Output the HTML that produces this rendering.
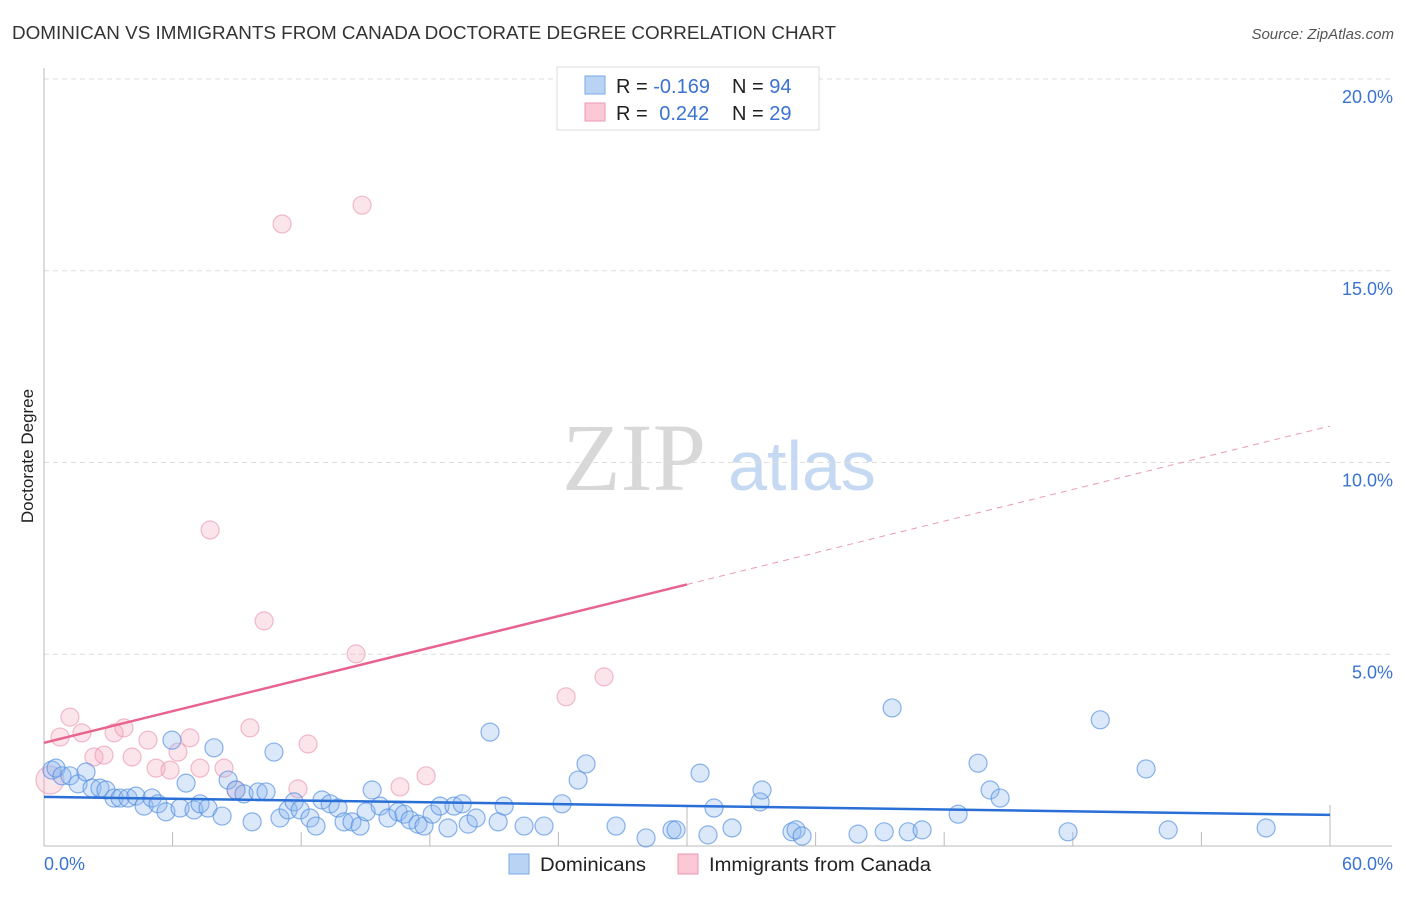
<!DOCTYPE html>
<html><head><meta charset="utf-8">
<style>
body{margin:0;background:#fff;font-family:"Liberation Sans",sans-serif;}
svg text{font-family:"Liberation Sans",sans-serif;}
</style></head>
<body>
<svg id="chart" width="1406" height="892" xmlns="http://www.w3.org/2000/svg">
<text x="12" y="39" font-size="18" fill="#333" textLength="824" lengthAdjust="spacingAndGlyphs">DOMINICAN VS IMMIGRANTS FROM CANADA DOCTORATE DEGREE CORRELATION CHART</text>
<text x="1394" y="39" font-size="15" fill="#555" font-style="italic" text-anchor="end">Source: ZipAtlas.com</text>
<text x="33" y="456" font-size="17" fill="#222" text-anchor="middle" transform="rotate(-90 33 456)">Doctorate Degree</text>
<g>
<text x="634" y="490" font-size="96" fill="#d8d8d8" text-anchor="middle" style="font-family:'Liberation Serif',serif">ZIP</text>
<text x="802" y="490" font-size="70" fill="#c5d9f2" text-anchor="middle">atlas</text>
</g>
<g id="grid"></g>
<g id="axes"></g>
<g id="marks"></g>
<g>
<rect x="557" y="67" width="262" height="63" fill="#fff" stroke="#ddd"/>
<rect x="585" y="76" width="20" height="18" fill="#b9d3f5" stroke="#7aa8e6"/>
<text x="616" y="93" font-size="20" fill="#222">R = <tspan fill="#3b73d1">-0.169</tspan></text>
<text x="732" y="93" font-size="20" fill="#222">N = <tspan fill="#3b73d1">94</tspan></text>
<rect x="585" y="103" width="20" height="18" fill="#fcc8d6" stroke="#eb9ab2"/>
<text x="616" y="120" font-size="20" fill="#222">R = <tspan fill="#3b73d1" dx="6">0.242</tspan></text>
<text x="732" y="120" font-size="20" fill="#222">N = <tspan fill="#3b73d1">29</tspan></text>
</g>
<g>
<rect x="509" y="854" width="20" height="20" fill="#b9d3f5" stroke="#7aa8e6"/>
<text x="540" y="871" font-size="19" fill="#222" textLength="106" lengthAdjust="spacingAndGlyphs">Dominicans</text>
<rect x="678" y="854" width="20" height="20" fill="#fcc8d6" stroke="#eb9ab2"/>
<text x="709" y="871" font-size="19" fill="#222" textLength="222" lengthAdjust="spacingAndGlyphs">Immigrants from Canada</text>
</g>
</svg>
<script>
const yTicks=[5,10,15,20];
const yTickLabels=["5.0%","10.0%","15.0%","20.0%"];
const xTickLabels=["0.0%","60.0%"];
const blueX=[0.37,0.56,0.84,1.21,1.59,1.96,2.24,2.61,2.89,3.27,3.55,3.92,4.29,4.67,5.04,5.32,5.69,5.97,6.35,6.63,7.00,7.28,7.65,7.93,8.31,8.59,8.96,9.33,9.71,9.99,10.36,10.73,11.01,11.39,11.67,11.95,12.41,12.69,12.97,13.35,13.72,14.00,14.37,14.75,15.03,15.31,15.68,16.05,16.52,16.80,17.08,17.45,17.73,18.11,18.48,18.85,19.13,19.51,19.79,20.16,20.81,21.19,21.47,22.40,23.33,24.17,24.92,25.29,26.69,28.09,29.30,29.49,30.61,30.98,31.26,32.10,33.41,33.50,34.90,35.09,35.37,37.98,39.20,39.57,40.32,40.97,42.65,43.58,44.14,44.61,47.78,49.28,51.42,52.45,57.02];
const blueY=[1.98,2.03,1.83,1.83,1.62,1.93,1.51,1.51,1.46,1.25,1.25,1.25,1.30,1.04,1.25,1.10,0.89,2.76,0.99,1.64,0.94,1.10,0.99,2.56,0.78,1.72,1.46,1.36,0.63,1.41,1.41,2.45,0.73,0.94,1.15,0.94,0.73,0.52,1.20,1.10,0.99,0.63,0.63,0.52,0.89,1.46,1.04,0.73,0.89,0.83,0.68,0.57,0.52,0.83,1.04,0.47,1.04,1.10,0.57,0.73,2.97,0.63,1.04,0.52,0.52,1.10,1.72,2.14,0.52,0.21,0.42,0.42,1.90,0.29,0.99,0.47,1.15,1.46,0.37,0.42,0.26,0.31,0.37,3.60,0.37,0.42,0.83,2.16,1.46,1.25,0.37,3.29,2.01,0.42,0.47];
const pinkX=[0.28,0.75,1.21,1.77,2.33,2.80,3.27,3.73,4.11,4.85,5.23,5.88,6.25,6.81,7.28,7.75,8.40,8.96,9.61,10.27,11.11,11.85,12.32,14.56,14.84,16.61,17.83,24.36,26.13];
const pinkY=[1.72,2.84,3.36,2.95,2.32,2.37,2.95,3.08,2.32,2.76,2.03,1.98,2.45,2.82,2.03,8.24,2.03,1.46,3.08,5.87,16.22,1.49,2.66,5.01,16.71,1.54,1.83,3.89,4.41];
const blueTrend=[1.28,0.81];
const pinkTrend=[2.69,10.95];
const pinkSolidEnd=30;

const X=v=>44+v*(1286/60);
const Y=v=>846-v*38.35;
const NS="http://www.w3.org/2000/svg";
function mk(tag,attrs,parent){const e=document.createElementNS(NS,tag);for(const k in attrs)e.setAttribute(k,attrs[k]);document.getElementById(parent).appendChild(e);return e;}

yTicks.forEach((t,i)=>{
  const l=mk('line',{x1:44,x2:1392,y1:Y(t),y2:Y(t),stroke:'#ddd','stroke-dasharray':'5,4'},'grid');
  
  
  const tx=mk('text',{x:1393,y:Y(t)+24,'font-size':18,fill:'#3b73d1','text-anchor':'end'},'grid');
  tx.textContent=yTickLabels[i];
  
  
});
let a=mk('line',{x1:44,x2:44,y1:68,y2:846,stroke:'#bbb'},'axes');


a=mk('line',{x1:44,x2:1392,y1:846,y2:846,stroke:'#bbb'},'axes');


for(let k=1;k<=10;k++){
  const tall=(k==5||k==10);
  const t=mk('line',{x1:X(k*6),x2:X(k*6),y1:tall?805:832,y2:846,stroke:'#bbb'},'axes');
  
  
}
let xl=mk('text',{x:44,y:870,'font-size':18,fill:'#3b73d1'},'axes');
xl.textContent=xTickLabels[0];


xl=mk('text',{x:1393,y:870,'font-size':18,fill:'#3b73d1','text-anchor':'end'},'axes');
xl.textContent=xTickLabels[1];



pinkX.forEach((x,i)=>{
  const c=mk('circle',{cx:X(x),cy:Y(pinkY[i]),r:i==0?14:9,fill:'rgba(245,165,190,0.3)',stroke:'rgba(232,145,175,0.6)','stroke-width':1.2},'marks');
  
  
});
blueX.forEach((x,i)=>{
  const c=mk('circle',{cx:X(x),cy:Y(blueY[i]),r:9,fill:'rgba(140,185,240,0.32)',stroke:'rgba(80,140,222,0.65)','stroke-width':1.2},'marks');
  
  
});
const pAt=x=>pinkTrend[0]+(pinkTrend[1]-pinkTrend[0])*x/60;
let tl=mk('line',{x1:X(0),y1:Y(pAt(0)),x2:X(pinkSolidEnd),y2:Y(pAt(pinkSolidEnd)),stroke:'#e8648f','stroke-width':2.5},'marks');


tl=mk('line',{x1:X(pinkSolidEnd),y1:Y(pAt(pinkSolidEnd)),x2:X(60),y2:Y(pAt(60)),stroke:'#eb9ab2','stroke-width':1,'stroke-dasharray':'6,5'},'marks');


tl=mk('line',{x1:X(0),y1:Y(blueTrend[0]),x2:X(60),y2:Y(blueTrend[1]),stroke:'#2a6fd6','stroke-width':2.5},'marks');


</script>
</body></html>
